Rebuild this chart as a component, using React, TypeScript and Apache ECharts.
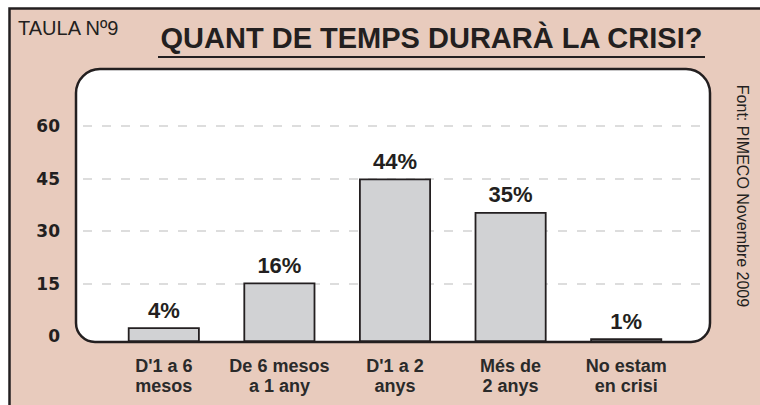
import React, { useEffect, useRef } from "react";
import * as echarts from "echarts";

const categories = ["D'1 a 6\nmesos", "De 6 mesos\na 1 any", "D'1 a 2\nanys", "Més de\n2 anys", "No estam\nen crisi"];
const values = [4, 16, 44, 35, 1];
const yTicks = [0, 15, 30, 45, 60];
const tableLabel = "TAULA Nº9";
const titleText = "QUANT DE TEMPS DURARÀ LA CRISI?";
const sourceText = "Font: PIMECO Novembre 2009";

const DARK = "#231f20";
const SALMON = "#e8cbbd";

export default function App() {
  const ref = useRef<HTMLDivElement>(null);
  useEffect(() => {
    if (!ref.current) return;
    const chart = echarts.init(ref.current, undefined, { renderer: "svg" });
    const yMin = yTicks[0];
    const yMax = yTicks[yTicks.length - 1];
    const yInterval = yTicks[1] - yTicks[0];
    chart.setOption({
      animation: false,
      backgroundColor: "#ffffff",
      graphic: [
        {
          type: "rect",
          z: -20,
          shape: { x: 9.5, y: 8.5, width: 820, height: 500 },
          style: { fill: SALMON, stroke: DARK, lineWidth: 2.5 },
        },
        {
          type: "rect",
          z: -10,
          shape: { x: 76, y: 69, width: 634, height: 273, r: [24, 24, 19, 19] },
          style: { fill: "#ffffff", stroke: DARK, lineWidth: 2.5 },
        },
        {
          type: "text",
          left: 18,
          top: 18,
          style: {
            text: tableLabel,
            fontFamily: "Liberation Sans",
            fontSize: 20,
            fill: DARK,
          },
        },
        {
          type: "text",
          x: 431.5,
          y: 38,
          style: {
            text: titleText,
            fontFamily: "Liberation Sans",
            fontWeight: "bold",
            fontSize: 29,
            fill: DARK,
            align: "center",
            verticalAlign: "middle",
          },
        },
        {
          type: "line",
          shape: { x1: 158, y1: 57, x2: 705, y2: 57 },
          style: { stroke: DARK, lineWidth: 2 },
        },
        {
          type: "text",
          x: 742,
          y: 196,
          rotation: -Math.PI / 2,
          style: {
            text: sourceText,
            fontFamily: "Liberation Sans",
            fontSize: 16,
            fill: DARK,
            align: "center",
            verticalAlign: "middle",
          },
        },
      ],
      grid: [
        { left: 83, right: 57, top: 126, bottom: 69 },
        { left: 106, right: 76, top: 119, bottom: 63 },
      ],
      xAxis: [
        { gridIndex: 0, type: "value", show: false, min: 0, max: 1 },
        {
          gridIndex: 1,
          type: "category",
          data: categories,
          axisLine: { show: false },
          axisTick: { show: false },
          axisLabel: {
            interval: 0,
            margin: 14,
            fontFamily: "Liberation Sans",
            fontWeight: "bold",
            fontSize: 18,
            lineHeight: 20,
            color: "#2a2a2a",
          },
        },
      ],
      yAxis: [
        {
          gridIndex: 0,
          type: "value",
          min: yMin,
          max: yMax,
          interval: yInterval,
          axisLine: { show: false },
          axisTick: { show: false },
          axisLabel: {
            margin: 23,
            fontFamily: "DejaVu Sans",
            fontWeight: "bold",
            fontSize: 17,
            color: DARK,
            padding: [0, 0, 3, 0],
          },
          splitLine: {
            show: true,
            showMinLine: false,
            lineStyle: { color: "#d2d2d2", width: 1.5, type: [9, 10] },
          },
        },
        { gridIndex: 1, type: "value", min: yMin, max: yMax, show: false, splitLine: { show: false } },
      ],
      series: [
        {
          type: "bar",
          xAxisIndex: 1,
          yAxisIndex: 1,
          data: values,
          barWidth: 72,
          itemStyle: { color: "#d1d2d4", borderColor: DARK, borderWidth: 1.8 },
          label: {
            show: true,
            position: "top",
            distance: 6,
            formatter: "{c}%",
            fontFamily: "Liberation Sans",
            fontWeight: "bold",
            fontSize: 22,
            color: DARK,
          },
        },
      ],
    });
    return () => chart.dispose();
  }, []);
  return <div ref={ref} style={{ position: "fixed", left: 0, top: 0, width: 760, height: 405 }} />;
}
